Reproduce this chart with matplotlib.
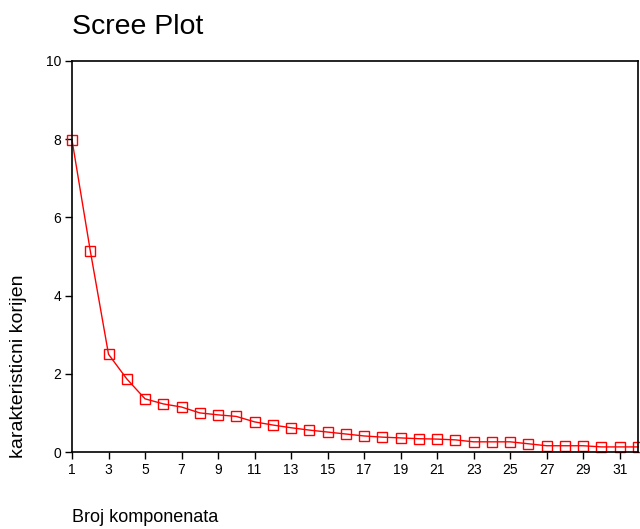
import matplotlib.pyplot as plt
import numpy as np

plt.rcParams['font.family'] = ['Liberation Sans', 'DejaVu Sans']

# eigenvalues
components = np.arange(1, 33)
eigenvalues = [7.98, 5.15, 2.50, 1.87, 1.36, 1.23, 1.15, 1.00, 0.95, 0.91,
               0.77, 0.69, 0.62, 0.56, 0.51, 0.46, 0.41, 0.38, 0.36, 0.34,
               0.33, 0.31, 0.26, 0.26, 0.26, 0.21, 0.16, 0.16, 0.16, 0.13,
               0.13, 0.13]
xticks = list(range(1, 32, 2))
yticks = [0, 2, 4, 6, 8, 10]

fig = plt.figure(figsize=(6.4, 5.29), dpi=100)
ax = fig.add_axes([72/640, 1 - 452/529, 566/640, 391/529])

ax.plot(components, eigenvalues, color='red', lw=1, marker='s', ms=7,
        mfc='none', mec='red', mew=1, clip_on=False)

ax.set_xlim(1, 32)
ax.set_ylim(0, 10)
ax.set_xticks(xticks)
ax.set_yticks(yticks)
ax.tick_params(direction='out', length=5, width=1, labelsize=10, pad=3)
for s in ax.spines.values():
    s.set_linewidth(1.2)

fig.text(72/640, 1 - 27/529, 'Scree Plot', fontsize=20.5, va='center', ha='left')
fig.text(72/640, 1 - 522/529, 'Broj komponenata', fontsize=13, va='baseline', ha='left')
fig.text(19/640, 1 - 458/529, 'karakteristicni korijen', fontsize=14,
         rotation=90, va='bottom', ha='center')

plt.savefig('out.png', dpi=100)
